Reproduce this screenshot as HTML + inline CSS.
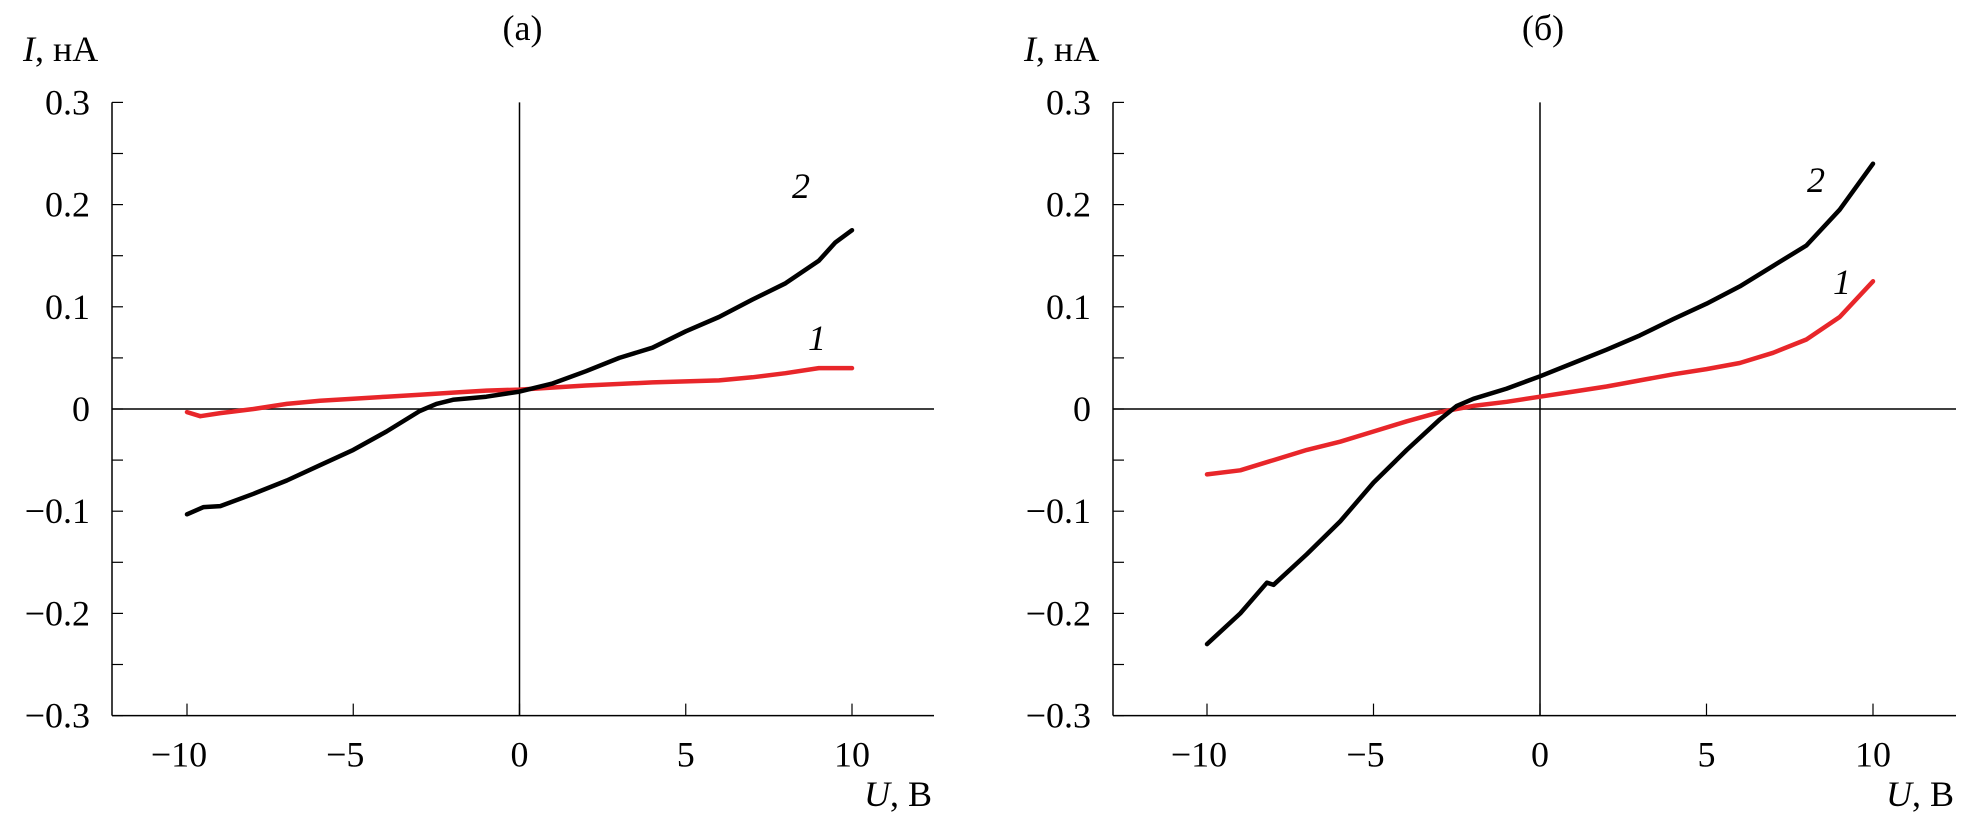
<!DOCTYPE html>
<html><head><meta charset="utf-8"><style>
body{margin:0;background:#fff}
svg{display:block}
text{font-family:"Liberation Serif",serif;fill:#000}
</style></head><body>
<svg id="chart" width="1983" height="824" viewBox="0 0 1983 824" xmlns="http://www.w3.org/2000/svg"></svg>
<script>
const xTicks=[-10,-5,0,5,10];
const yTicks=[0.3,0.2,0.1,0,-0.1,-0.2,-0.3];
const yTickLabels=["0.3","0.2","0.1","0","\u22120.1","\u22120.2","\u22120.3"];
const xTickLabels=["\u221210","\u22125","0","5","10"];
const aU2=[-10,-9.5,-9,-8,-7,-6,-5,-4,-3,-2.5,-2,-1,0,1,2,3,4,5,6,7,8,9,9.5,10];
const aI2=[-0.103,-0.096,-0.095,-0.083,-0.07,-0.055,-0.04,-0.022,-0.002,0.005,0.009,0.012,0.017,0.025,0.037,0.05,0.06,0.076,0.09,0.107,0.123,0.145,0.163,0.175];
const aU1=[-10,-9.6,-9,-8,-7,-6,-5,-4,-3,-2,-1,0,2,4,6,7,8,9,10];
const aI1=[-0.003,-0.007,-0.004,0,0.005,0.008,0.01,0.012,0.014,0.016,0.018,0.019,0.023,0.026,0.028,0.031,0.035,0.04,0.04];
const bU2=[-10,-9,-8.2,-8,-7,-6,-5,-4,-3,-2.5,-2,-1,0,1,2,3,4,5,6,7,8,9,10];
const bI2=[-0.23,-0.2,-0.17,-0.172,-0.142,-0.11,-0.072,-0.04,-0.01,0.003,0.01,0.02,0.032,0.045,0.058,0.072,0.088,0.103,0.12,0.14,0.16,0.195,0.24];
const bU1=[-10,-9,-8,-7,-6,-5,-4,-3,-2,-1,0,1,2,3,4,5,6,7,8,9,10];
const bI1=[-0.064,-0.06,-0.05,-0.04,-0.032,-0.022,-0.012,-0.003,0.003,0.007,0.012,0.017,0.022,0.028,0.034,0.039,0.045,0.055,0.068,0.09,0.125];

const NS="http://www.w3.org/2000/svg";
const svg=document.getElementById('chart');
function mk(tag,attrs,parent,txt){const e=document.createElementNS(NS,tag);for(const k in attrs)e.setAttribute(k,attrs[k]);if(txt!==undefined)e.textContent=txt;parent.appendChild(e);return e;}

function panel(cfg){
  const g=mk('g',{},svg);
  
  
  const X=u=>cfg.x0+(u+10)*(cfg.x10-cfg.x0)/20;
  const Y=i=>409-i*1022;
  const top=Y(0.3),bot=Y(-0.3);
  const ya=mk('line',{x1:cfg.ax,y1:top,x2:cfg.ax,y2:bot,stroke:'#000','stroke-width':1.5},g);
  
  const xa=mk('line',{x1:cfg.ax,y1:bot,x2:cfg.xr,y2:bot,stroke:'#000','stroke-width':1.5},g);
  
  const z1=mk('line',{x1:X(0),y1:top,x2:X(0),y2:bot,stroke:'#000','stroke-width':1.5},g);
  
  const z2=mk('line',{x1:cfg.ax,y1:Y(0),x2:cfg.xr,y2:Y(0),stroke:'#000','stroke-width':1.5},g);
  
  for(let k=-6;k<=6;k++){const t=mk('line',{x1:cfg.ax,y1:Y(k*0.05),x2:cfg.ax+11,y2:Y(k*0.05),stroke:'#000','stroke-width':1.2},g);
    }
  yTicks.forEach((v,i)=>{const t=mk('text',{x:cfg.ax-22,y:Y(v)+12,'font-size':36,'text-anchor':'end'},g,yTickLabels[i]);
    });
  xTicks.forEach((v,i)=>{const t=mk('line',{x1:X(v),y1:bot,x2:X(v),y2:bot-12,stroke:'#000','stroke-width':1.2},g);
    
    const l=mk('text',{x:X(v)-(v<0?8:0),y:bot+51,'font-size':36,'text-anchor':'middle'},g,xTickLabels[i]);
    });
  const yt=mk('text',{x:cfg.ax-89,y:61,'font-size':36},g);
  
  mk('tspan',{'font-style':'italic'},yt,'I');mk('tspan',{},yt,', нА');
  const xt=mk('text',{x:cfg.xr-2,y:806,'font-size':36,'text-anchor':'end'},g);
  
  mk('tspan',{'font-style':'italic'},xt,'U');mk('tspan',{},xt,', В');
  const ti=mk('text',{x:X(0)+3,y:40,'font-size':36,'text-anchor':'middle'},g,cfg.title);
  
  cfg.series.forEach(s=>{
    const d=s.u.map((u,i)=>(i?'L':'M')+X(u).toFixed(1)+','+Y(s.i[i]).toFixed(1)).join(' ');
    const p=mk('path',{d:d,fill:'none',stroke:s.color,'stroke-width':4.5,'stroke-linejoin':'round','stroke-linecap':'round'},g);
    
    const l=mk('text',{x:s.lx,y:s.ly,'font-size':36,'font-style':'italic'},g,s.label);
    
  });
}
panel({name:'panel-a',title:'(а)',ax:112,x0:187,x10:852,xr:934,series:[
  {name:'curve-1-red',u:aU1,i:aI1,color:'#e8262a',label:'1',lx:808,ly:350},
  {name:'curve-2-black',u:aU2,i:aI2,color:'#000',label:'2',lx:792,ly:198}]});
panel({name:'panel-b',title:'(б)',ax:1113,x0:1207,x10:1873,xr:1956,series:[
  {name:'curve-1-red',u:bU1,i:bI1,color:'#e8262a',label:'1',lx:1833,ly:294},
  {name:'curve-2-black',u:bU2,i:bI2,color:'#000',label:'2',lx:1807,ly:192}]});
</script>
</body></html>
